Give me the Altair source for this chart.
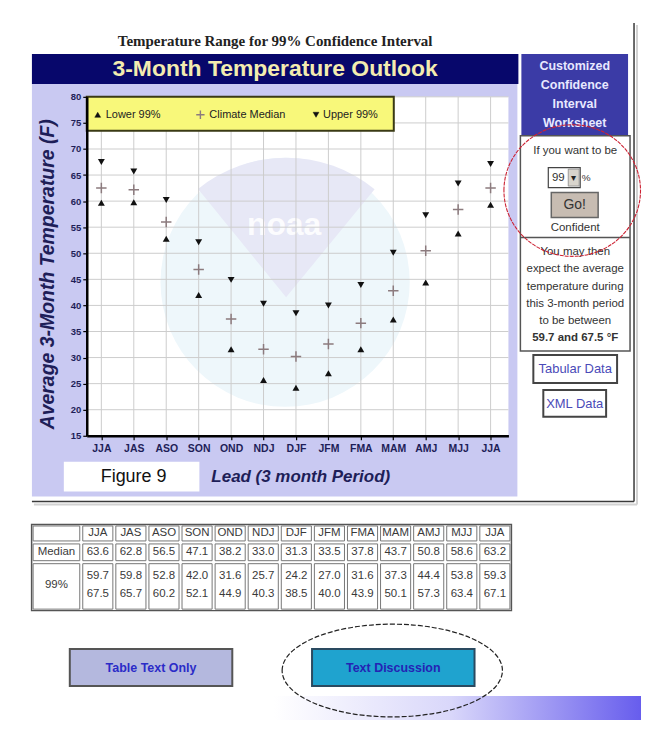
import altair as alt
import pandas as pd

# ---------------- data ----------------
periods = ["JJA", "JAS", "ASO", "SON", "OND", "NDJ", "DJF", "JFM", "FMA", "MAM", "AMJ", "MJJ", "JJA"]
lower_99 = [59.7, 59.8, 52.8, 42.0, 31.6, 25.7, 24.2, 27.0, 31.6, 37.3, 44.4, 53.8, 59.3]
upper_99 = [67.5, 65.7, 60.2, 52.1, 44.9, 40.3, 38.5, 40.0, 43.9, 50.1, 57.3, 63.4, 67.1]
median_plot = [62.5, 62.2, 56.0, 46.9, 37.4, 31.6, 30.2, 32.6, 36.6, 42.8, 50.5, 58.4, 62.5]
median_table = [63.6, 62.8, 56.5, 47.1, 38.2, 33.0, 31.3, 33.5, 37.8, 43.7, 50.8, 58.6, 63.2]
y_ticks = list(range(15, 81, 5))

# ---------------- layout constants ----------------
OX, OY = 87, 96          # page position of plot origin
W, H = 423, 340          # plot area
SANS = "Liberation Sans"
SERIF = "Liberation Serif"
NAVY_TXT = "#1e1e58"
ONE = pd.DataFrame({"k": [0]})

idx = list(range(len(periods)))
df_lower = pd.DataFrame({"idx": idx, "period": periods, "value": lower_99})
df_median = pd.DataFrame({"idx": idx, "period": periods, "value": median_plot})
df_upper = pd.DataFrame({"idx": idx, "period": periods, "value": upper_99})
df_idx = pd.DataFrame({"idx": idx})
df_ticks = pd.DataFrame({"tick": y_ticks})


def rect(x0, y0, x1, y1, **kw):
    return alt.Chart(ONE).mark_rect(**kw).encode(
        x=alt.value(x0 - OX), x2=alt.value(x1 - OX),
        y=alt.value(y0 - OY), y2=alt.value(y1 - OY))


def txt(x, y, s, **kw):
    kw.setdefault("font", SANS)
    kw.setdefault("baseline", "middle")
    return alt.Chart(ONE).mark_text(text=s, **kw).encode(
        x=alt.value(x - OX), y=alt.value(y - OY))


def hline(x0, x1, y, **kw):
    return alt.Chart(ONE).mark_rule(**kw).encode(
        x=alt.value(x0 - OX), x2=alt.value(x1 - OX), y=alt.value(y - OY))


def vline(x, y0, y1, **kw):
    return alt.Chart(ONE).mark_rule(**kw).encode(
        x=alt.value(x - OX), y=alt.value(y0 - OY), y2=alt.value(y1 - OY))


def ellipse(cx, cy, rx, ry, **kw):
    k = 0.5523
    r = ry / rx
    path = (f"M-1,0C-1,{-k*r:.4f},{-k:.4f},{-r:.4f},0,{-r:.4f}"
            f"C{k:.4f},{-r:.4f},1,{-k*r:.4f},1,0"
            f"C1,{k*r:.4f},{k:.4f},{r:.4f},0,{r:.4f}"
            f"C{-k:.4f},{r:.4f},-1,{k*r:.4f},-1,0Z")
    return alt.Chart(ONE).mark_point(shape=path, size=(2 * rx) ** 2, filled=False,
                                     opacity=1, **kw).encode(
        x=alt.value(cx - OX), y=alt.value(cy - OY))


def sym(x, y, shape, size, **kw):
    return alt.Chart(ONE).mark_point(shape=shape, size=size, opacity=1, **kw).encode(
        x=alt.value(x - OX), y=alt.value(y - OY))


CROSS = "M-1,0L1,0M0,-1L0,1"
layers = []

# page background and frame (kept inside 643 x 721 so the page never scrolls)
layers.append(rect(8, 8, 643, 721, fill="white"))
layers.append(rect(8, 697, 643, 721, fill={
    "gradient": "linear", "x1": 0, "x2": 1, "y1": 0, "y2": 0,
    "stops": [{"offset": 0, "color": "#ffffff"}, {"offset": 0.42, "color": "#ffffff"},
              {"offset": 0.7, "color": "#d9d7fa"}, {"offset": 1, "color": "#675ded"}]}))
layers.append(vline(639, 24, 505, color="#d2d2d2", strokeWidth=2))
layers.append(hline(34, 639, 505, color="#d2d2d2", strokeWidth=2))
layers.append(vline(636, 22, 502, color="#3a3a3a", strokeWidth=1.5))
layers.append(hline(32, 636, 502, color="#3a3a3a", strokeWidth=1.5))

# left panel
layers.append(rect(32, 83, 519, 497, fill="#c9c9f2"))
layers.append(rect(32, 53, 520, 83, fill="#07076b"))
layers.append(txt(276, 40, "Temperature Range for 99% Confidence Interval",
                  font=SERIF, fontSize=15, fontWeight="bold", color="#222222", align="center"))
layers.append(txt(276, 68, "3-Month Temperature Outlook", fontSize=23, fontWeight="bold",
                  color="#f3ecb0", align="center"))
layers.append(rect(OX, OY, OX + W, OY + H, fill="white"))

# faint NOAA watermark
layers.append(alt.Chart(ONE).mark_arc(theta=0, theta2=6.2832, radius=125, fill="#eef7fb").encode(
    x=alt.value(286 - OX), y=alt.value(282 - OY)))
layers.append(alt.Chart(ONE).mark_arc(theta=5.60, theta2=6.97, radius=140, fill="#e7e8f6").encode(
    x=alt.value(287 - OX), y=alt.value(297 - OY)))
layers.append(txt(285, 225, "noaa", fontSize=32, fontWeight="bold", color="#ffffff",
                  align="center", opacity=0.9))

# gridlines
xs = alt.Scale(domain=[-0.45, 12.55])
ys = alt.Scale(domain=[15, 80])
layers.append(alt.Chart(df_idx).mark_rule(color="#cdcdcd", strokeWidth=1).encode(
    x=alt.X("idx:Q", scale=xs, axis=None), y=alt.value(0), y2=alt.value(H)))
layers.append(alt.Chart(df_ticks).mark_rule(color="#cdcdcd", strokeWidth=1).encode(
    y=alt.Y("tick:Q", scale=ys, axis=None), x=alt.value(0), x2=alt.value(W)))

# legend box
layers.append(rect(87, 96, 395, 130, fill="#f8f87a", stroke="#3a3a14", strokeWidth=2))
layers.append(sym(98, 114, "triangle-up", 34, fill="#111111", stroke="#111111", strokeWidth=0.5))
layers.append(txt(106, 114, "Lower 99%", fontSize=11, color="#222222", align="left"))
layers.append(sym(201, 114, CROSS, 70, stroke="#8c7b7e", strokeWidth=1.4, filled=False))
layers.append(txt(210, 114, "Climate Median", fontSize=11, color="#222222", align="left"))
layers.append(sym(317, 114, "triangle-down", 34, fill="#111111", stroke="#111111", strokeWidth=0.5))
layers.append(txt(324, 114, "Upper 99%", fontSize=11, color="#222222", align="left"))

# data points (the first layer carries the axes)
label_expr = "[" + ",".join("'" + p + "'" for p in periods) + "][datum.value]"
x_axis = alt.Axis(
    values=idx, labelExpr=label_expr, title=None, grid=False,
    domainColor="#000000", domainWidth=2.5, tickColor="#000000", tickSize=4, tickWidth=1.2,
    labelFont=SANS, labelFontSize=10.5, labelFontWeight="bold", labelColor=NAVY_TXT,
    labelPadding=4, labelFlush=False, labelOverlap=False, zindex=1)
y_axis = alt.Axis(
    values=y_ticks, title=None, grid=False,
    domainColor="#000000", domainWidth=2.5, tickColor="#000000", tickSize=4, tickWidth=1.2,
    labelFont=SANS, labelFontSize=9.5, labelFontWeight="bold", labelColor=NAVY_TXT,
    labelPadding=2, labelOverlap=False, zindex=1)
layers.append(alt.Chart(df_lower).mark_point(
    shape="triangle-up", size=48, filled=True, color="#111111", opacity=1).encode(
    x=alt.X("idx:Q", scale=xs, axis=x_axis),
    y=alt.Y("value:Q", scale=ys, axis=y_axis)))
layers.append(alt.Chart(df_median).mark_point(
    shape=CROSS, size=110, filled=False, stroke="#8c7b7e", strokeWidth=1.5, opacity=1).encode(
    x=alt.X("idx:Q", scale=xs, axis=None),
    y=alt.Y("value:Q", scale=ys, axis=None)))
layers.append(alt.Chart(df_upper).mark_point(
    shape="triangle-down", size=48, filled=True, color="#111111", opacity=1).encode(
    x=alt.X("idx:Q", scale=xs, axis=None),
    y=alt.Y("value:Q", scale=ys, axis=None)))

# axis title and bottom captions
layers.append(txt(48, 274, "Average 3-Month Temperature (F)", fontSize=19.5, fontWeight="bold",
                  fontStyle="italic", color=NAVY_TXT, align="center", angle=270))
layers.append(rect(64, 462, 200, 492, fill="white"))
layers.append(txt(134, 477, "Figure 9", fontSize=18, color="#111111", align="center"))
layers.append(txt(212, 477, "Lead (3 month Period)", fontSize=17, fontWeight="bold",
                  fontStyle="italic", color=NAVY_TXT, align="left"))

# right panel
layers.append(rect(523, 53, 630, 135, fill="#3b3ba6"))
for j, line in enumerate(["Customized", "Confidence", "Interval", "Worksheet"]):
    layers.append(txt(576.5, 65 + 19 * j, line, fontSize=12.5, fontWeight="bold",
                      color="#e8e8ff", align="center"))
layers.append(rect(522, 135, 632, 351, fill="white", stroke="#555555", strokeWidth=1.5))
layers.append(hline(522, 632, 237, color="#555555", strokeWidth=1.5))
layers.append(txt(577, 150, "If you want to be", fontSize=11.5, color="#333333", align="center"))
layers.append(rect(550, 167, 582, 187, fill="white", stroke="#444444", strokeWidth=1.2))
layers.append(rect(570, 168.5, 581, 185.5, fill="#d8d4cc", stroke="#888888", strokeWidth=0.8))
layers.append(txt(575.5, 177, "▾", fontSize=10, color="#222222", align="center"))
layers.append(txt(560, 177, "99", fontSize=11.5, color="#333333", align="center"))
layers.append(txt(588, 177, "%", fontSize=10, color="#333333", align="center"))
layers.append(rect(553, 192, 600, 217, fill="#c7bcb2", stroke="#666666", strokeWidth=1.5))
layers.append(txt(576.5, 205, "Go!", fontSize=14, color="#333333", align="center"))
body_lines = ["Confident", "You may then", "expect the average", "temperature during",
              "this 3-month period", "to be between"]
body_y = [228, 252, 269, 287, 304, 321]
for line, yy in zip(body_lines, body_y):
    layers.append(txt(577, yy, line, fontSize=11.5, color="#333333", align="center"))
layers.append(txt(577, 338, "59.7 and 67.5 °F", fontSize=11.5, fontWeight="bold",
                  color="#333333", align="center"))
layers.append(rect(535, 355, 619, 383, fill="white", stroke="#444444", strokeWidth=2))
layers.append(txt(577, 369, "Tabular Data", fontSize=13, color="#4a4ab8", align="center"))
layers.append(rect(545, 390, 608, 417, fill="white", stroke="#444444", strokeWidth=2))
layers.append(txt(576.5, 404, "XML Data", fontSize=13, color="#4a4ab8", align="center"))
layers.append(ellipse(574, 190, 68.5, 66, stroke="#cc2233", strokeWidth=1.1, strokeDash=[4, 1]))

# data table
tx = alt.Scale(domain=[0, 14.5], range=[31.7 - OX, 513 - OX])
ty = alt.Scale(domain=[0, 4.8], range=[525 - OY, 611.4 - OY])
row_edges = [(0, 1), (1, 2.1), (2.1, 4.8)]
cells, texts = [], []
for (r0, r1) in row_edges:
    cells.append({"x0": 0, "x1": 1.5, "y0": r0, "y1": r1})
    for c in range(len(periods)):
        cells.append({"x0": 1.5 + c, "x1": 2.5 + c, "y0": r0, "y1": r1})
texts.append({"xc": 0.75, "yc": 1.55, "label": "Median"})
texts.append({"xc": 0.75, "yc": 3.35, "label": "99%"})
for c, p in enumerate(periods):
    xc = 2.0 + c
    texts.append({"xc": xc, "yc": 0.5, "label": p})
    texts.append({"xc": xc, "yc": 1.55, "label": f"{median_table[c]:.1f}"})
    texts.append({"xc": xc, "yc": 2.85, "label": f"{lower_99[c]:.1f}"})
    texts.append({"xc": xc, "yc": 3.85, "label": f"{upper_99[c]:.1f}"})
layers.append(rect(31.7, 525, 513, 611.4, fill="white", stroke="#555555", strokeWidth=1.5))
layers.append(alt.Chart(pd.DataFrame(cells)).mark_rect(
    fill="white", stroke="#777777", strokeWidth=1,
    xOffset=1.5, x2Offset=-1.5, yOffset=1.5, y2Offset=-1.5).encode(
    x=alt.X("x0:Q", scale=tx, axis=None), x2="x1:Q",
    y=alt.Y("y0:Q", scale=ty, axis=None), y2="y1:Q"))
layers.append(alt.Chart(pd.DataFrame(texts)).mark_text(
    font=SANS, fontSize=11.5, color="#3a3a3a", baseline="middle").encode(
    x=alt.X("xc:Q", scale=tx, axis=None), y=alt.Y("yc:Q", scale=ty, axis=None),
    text="label:N"))

# buttons
layers.append(rect(70, 650, 233, 687, fill="#b4b8de", stroke="#555555", strokeWidth=2))
layers.append(txt(151.5, 668.5, "Table Text Only", fontSize=12.5, fontWeight="bold",
                  color="#2b2bc8", align="center"))
layers.append(rect(313, 650, 476, 687, fill="#1fa3cf", stroke="#2a4a60", strokeWidth=2))
layers.append(txt(394.5, 668.5, "Text Discussion", fontSize=12.5, fontWeight="bold",
                  color="#2424b4", align="center"))
layers.append(ellipse(393.5, 671.5, 110.5, 46.5, stroke="#222222", strokeWidth=1.2,
                      strokeDash=[5, 2]))

chart = alt.layer(*layers).resolve_scale(x="independent", y="independent").properties(
    width=W, height=H, padding=0, background="white"
).configure_view(strokeWidth=0)

chart.save("out.html", embed_options={"renderer": "svg", "actions": False})
